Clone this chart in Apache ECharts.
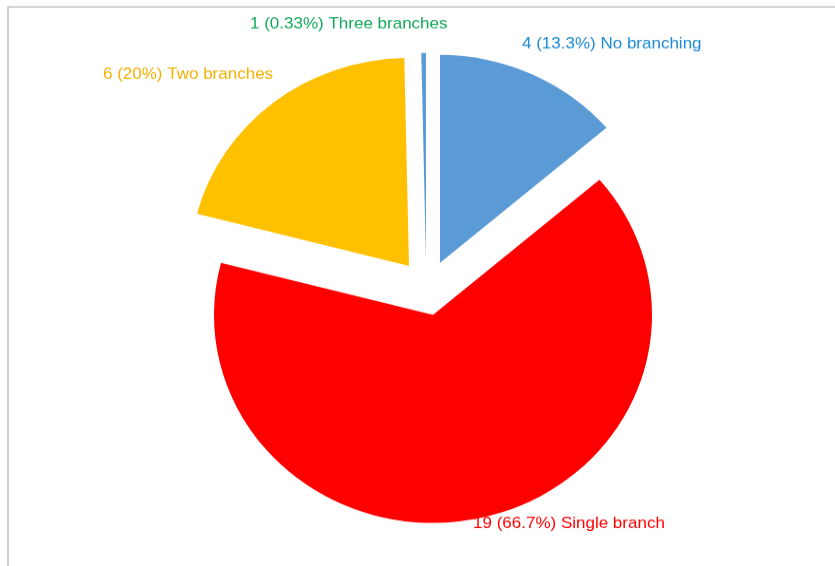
<!DOCTYPE html>
<html>
<head>
<meta charset="utf-8">
<script src="https://cdn.jsdelivr.net/npm/echarts@6/dist/echarts.min.js"></script>
<style>
html,body{margin:0;padding:0;background:#fff;overflow:hidden;}
#wrap{width:835px;height:566px;overflow:hidden;position:relative;}
#chart{width:835px;height:596px;transform:scaleY(0.9497);transform-origin:0 0;position:absolute;left:0;top:0;}
</style>
</head>
<body>
<div id="wrap"><div id="chart"></div></div>
<script>
// Data
var categories = ['No branching', 'Single branch', 'Two branches', 'Three branches'];
var plottedValues = [4, 19, 6, 0.1];
var countLabels = [4, 19, 6, 1];
var percentLabels = ['13.3%', '66.7%', '20%', '0.33%'];

// Styles / layout
var sliceColors = ['#5B9BD5', '#FF0000', '#FFC000', '#5B9BD5'];
var labelColors = ['#1C8AD6', '#FF0000', '#F5B000', '#12A85A'];
var centers = [[440, 276.8], [433, 331.6], [409, 280], [426, 274.8]];
var labelPos = [[522, 46.4], [473, 551.3], [103, 78], [250, 24.9]];
var R = 219;

var chart = echarts.init(document.getElementById('chart'), null, {renderer: 'canvas'});

var series = categories.map(function (cat, i) {
  return {
    type: 'pie',
    center: centers[i],
    radius: [0, R],
    startAngle: 90,
    clockwise: true,
    padAngle: 0,
    minAngle: 0,
    avoidLabelOverlap: false,
    silent: true,
    animation: false,
    itemStyle: {borderWidth: 0, borderRadius: 0},
    labelLine: {show: false},
    label: {
      show: false,
      fontFamily: 'Liberation Sans, Arial, sans-serif',
      fontSize: 17,
      color: labelColors[i],
      formatter: function (p) {
        return countLabels[p.dataIndex] + ' (' + percentLabels[p.dataIndex] + ') ' + categories[p.dataIndex];
      }
    },
    labelLayout: function (p) {
      return {x: labelPos[i][0], y: labelPos[i][1], align: 'left', verticalAlign: 'middle', hideOverlap: false, moveOverlap: false};
    },
    data: plottedValues.map(function (v, j) {
      return {
        value: v,
        name: categories[j],
        itemStyle: {color: j === i ? sliceColors[j] : 'rgba(0,0,0,0)'},
        label: {show: j === i}
      };
    })
  };
});

chart.setOption({
  backgroundColor: '#fff',
  animation: false,
  graphic: [{
    type: 'rect',
    shape: {x: 8, y: 7.2, width: 900, height: 700},
    style: {fill: 'none', stroke: '#c2c2c2', lineWidth: 1.6},
    silent: true
  }],
  series: series
});
</script>
</body>
</html>
